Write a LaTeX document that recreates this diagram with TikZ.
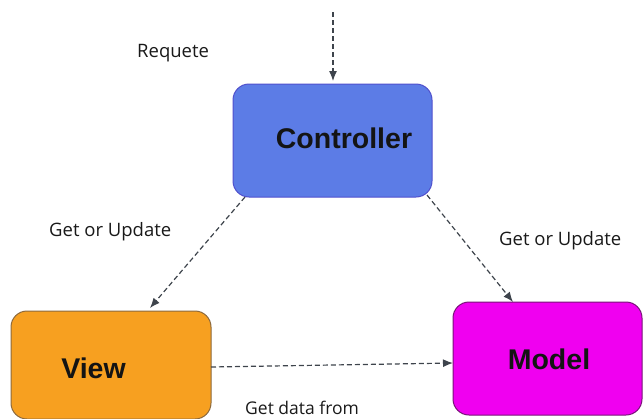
\documentclass[tikz,border=0pt]{standalone}
\usepackage{fontspec}
\usetikzlibrary{arrows.meta,calc}
\newfontfamily\labfont{Open Sans}
\newfontfamily\boxfont{Liberation Sans}
\definecolor{ctrlfill}{RGB}{92,124,230}
\definecolor{ctrldraw}{RGB}{80,80,205}
\definecolor{viewfill}{RGB}{247,160,32}
\definecolor{viewdraw}{RGB}{140,105,60}
\definecolor{modelfill}{RGB}{240,0,240}
\definecolor{modeldraw}{RGB}{120,20,120}
\definecolor{arrowcol}{RGB}{62,68,76}
\definecolor{labcol}{RGB}{25,25,25}
\tikzset{
  box/.style={draw, line width=1pt, rounded corners=16pt, inner sep=0pt, outer sep=0pt},
  boxtext/.style={inner sep=0pt, anchor=base, text=black!92, font=\boxfont\bfseries\fontsize{28.5}{30}\selectfont},
  lab/.style={inner sep=0pt, anchor=base west, text=labcol, font=\labfont\fontsize{18.5}{20}\selectfont},
  conn/.style={draw=arrowcol, line width=1.2pt, dash pattern=on 5pt off 3pt, -{Latex[length=10pt,width=8pt]}}
}
\begin{document}
\begin{tikzpicture}[x=1pt,y=-1pt]
\useasboundingbox (0,0) rectangle (643,418);
\node[box, fill=ctrlfill, draw=ctrldraw, minimum width=199pt, minimum height=113pt] (ctrl) at (332.5,140.5) {};
\node[box, fill=viewfill, draw=viewdraw, minimum width=200pt, minimum height=108pt] (view) at (111,365) {};
\node[box, fill=modelfill, draw=modeldraw, minimum width=189pt, minimum height=113pt] (model) at (547.5,358.5) {};
\node[boxtext] (ctrlt) at (344,148) {Controller};
\node[boxtext] (viewt) at (93.5,378) {View};
\node[boxtext] (modelt) at (549,369) {Model};
\coordinate (req) at (333,12);
\draw[conn] (req) -- ($(ctrl.north west)+(100,-3)$);
\draw[conn] ($(ctrl.south west)+(12,0)$) -- ($(view.north west)+(139,-3)$);
\draw[conn] ($(ctrl.south east)+(-5,-2)$) -- ($(model.north west)+(60,0)$);
\draw[conn] ($(view.north east)+(0,56)$) -- ($(model.north west)+(0,61)$);
\node[lab] (l1) at (137,57) {Requete};
\node[lab] (l2) at (49,236) {Get or Update};
\node[lab] (l3) at (499,245) {Get or Update};
\node[lab, font=\labfont\fontsize{17.5}{19}\selectfont] (l4) at (245,414) {Get data from};
\end{tikzpicture}
\end{document}
